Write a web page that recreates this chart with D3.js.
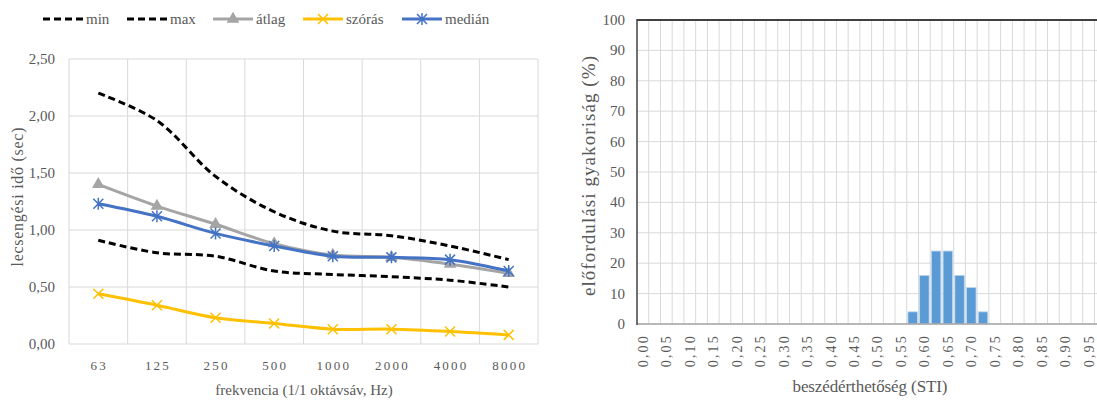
<!DOCTYPE html>
<html>
<head>
<meta charset="utf-8">
<script src="https://cdn.jsdelivr.net/npm/d3@7"></script>
<style>
  body { margin: 0; background: #fff; }
  text { font-family: "Liberation Serif", "DejaVu Serif", serif; fill: #595959; }
</style>
</head>
<body>
<script>
// left chart: reverberation time per octave band
const freqs = ["63", "125", "250", "500", "1000", "2000", "4000", "8000"];
const minVals    = [0.91, 0.80, 0.77, 0.64, 0.61, 0.59, 0.56, 0.50];
const maxVals    = [2.20, 1.96, 1.47, 1.16, 0.99, 0.95, 0.86, 0.74];
const meanVals   = [1.40, 1.21, 1.05, 0.88, 0.78, 0.76, 0.70, 0.62];
const stdVals    = [0.44, 0.34, 0.23, 0.18, 0.13, 0.13, 0.11, 0.08];
const medianVals = [1.23, 1.12, 0.97, 0.86, 0.77, 0.76, 0.74, 0.64];
const leftTicks = [0, 0.5, 1, 1.5, 2, 2.5];

// right chart: STI histogram
const stiBins = ["0,000","0,025","0,050","0,075","0,100","0,125","0,150","0,175","0,200","0,225",
                 "0,250","0,275","0,300","0,325","0,350","0,375","0,400","0,425","0,450","0,475",
                 "0,500","0,525","0,550","0,575","0,600","0,625","0,650","0,675","0,700","0,725",
                 "0,750","0,775","0,800","0,825","0,850","0,875","0,900","0,925","0,950","0,975"];
const stiFreq = [0,0,0,0,0,0,0,0,0,0,
                 0,0,0,0,0,0,0,0,0,0,
                 0,0,0,4,16,24,24,16,12,4,
                 0,0,0,0,0,0,0,0,0,0];
const stiLabels = ["0,00","0,05","0,10","0,15","0,20","0,25","0,30","0,35","0,40","0,45",
                   "0,50","0,55","0,60","0,65","0,70","0,75","0,80","0,85","0,90","0,95"];
const rightTicks = [0,10,20,30,40,50,60,70,80,90,100];

const W = 1097, H = 400;
const svg = d3.select("body").append("svg").attr("width", W).attr("height", H);

// ---------- left chart ----------
const x = d3.scaleBand().domain(freqs).range([69, 538]);
const y = d3.scaleLinear().domain([0, 2.5]).range([344, 59]);
const fmt = d => d3.format(".2f")(d).replace(".", ",");

const gL = svg.append("g");
gL.selectAll("line.h").data(leftTicks).enter().append("line")
  .attr("x1", 69).attr("x2", 538)
  .attr("y1", d => y(d)).attr("y2", d => y(d))
  .attr("stroke", "#d9d9d9").attr("stroke-width", 1);
gL.selectAll("line.v").data(freqs.concat(["end"])).enter().append("line")
  .attr("x1", (d, i) => 69 + i * x.step()).attr("x2", (d, i) => 69 + i * x.step())
  .attr("y1", 59).attr("y2", 344)
  .attr("stroke", "#d9d9d9").attr("stroke-width", 1);

gL.selectAll("text.yt").data(leftTicks).enter().append("text")
  .attr("x", 55).attr("y", d => y(d) + 5)
  .attr("text-anchor", "end").attr("font-size", 15)
  .text(fmt);
gL.selectAll("text.xt").data(freqs).enter().append("text")
  .attr("x", d => x(d) + x.bandwidth() / 2 + 1).attr("y", 370)
  .attr("text-anchor", "middle").attr("font-size", 13).attr("letter-spacing", "2.2px")
  .text(d => d);
gL.append("text").attr("x", 304).attr("y", 395).attr("text-anchor", "middle")
  .attr("font-size", 15).text("frekvencia (1/1 oktávsáv, Hz)");
gL.append("text").attr("transform", "translate(23,197) rotate(-90)")
  .attr("text-anchor", "middle").attr("font-size", 16)
  .attr("textLength", 139).attr("lengthAdjust", "spacing")
  .text("lecsengési idő (sec)");

const series = [
  { name: "min",    vals: minVals,    color: "#000000", dash: "7,4", marker: null },
  { name: "max",    vals: maxVals,    color: "#000000", dash: "7,4", marker: null },
  { name: "átlag",  vals: meanVals,   color: "#a5a5a5", dash: null,  marker: "tri" },
  { name: "szórás", vals: stdVals,    color: "#ffc000", dash: null,  marker: "x" },
  { name: "medián", vals: medianVals, color: "#4472c4", dash: null,  marker: "star" }
];

const line = d3.line()
  .x((d, i) => x(freqs[i]) + x.bandwidth() / 2)
  .y(d => y(d))
  .curve(d3.curveCatmullRom.alpha(0.5));

function drawMarker(g, type, cx, cy, color) {
  if (type === "tri") {
    g.append("path").attr("d", d3.symbol(d3.symbolTriangle, 70)())
      .attr("transform", `translate(${cx},${cy})`).attr("fill", color);
  } else if (type === "x") {
    g.append("path").attr("d", `M${cx-5},${cy-5}L${cx+5},${cy+5}M${cx-5},${cy+5}L${cx+5},${cy-5}`)
      .attr("stroke", color).attr("stroke-width", 1.5);
  } else if (type === "star") {
    g.append("path").attr("d", `M${cx-5},${cy-5}L${cx+5},${cy+5}M${cx-5},${cy+5}L${cx+5},${cy-5}M${cx},${cy-6}L${cx},${cy+6}`)
      .attr("stroke", color).attr("stroke-width", 1.5);
  }
}

series.forEach(s => {
  gL.append("path").datum(s.vals).attr("d", line)
    .attr("fill", "none").attr("stroke", s.color).attr("stroke-width", 3)
    .attr("stroke-dasharray", s.dash);
  if (s.marker) {
    s.vals.forEach((v, i) => drawMarker(gL, s.marker, x(freqs[i]) + x.bandwidth() / 2, y(v), s.color));
  }
});

// legend
const legX = [43, 127, 213, 303, 402];
series.forEach((s, i) => {
  const lg = svg.append("g");
  lg.append("line").attr("x1", legX[i]).attr("x2", legX[i] + 40).attr("y1", 19).attr("y2", 19)
    .attr("stroke", s.color).attr("stroke-width", 3).attr("stroke-dasharray", s.dash);
  if (s.marker) drawMarker(lg, s.marker, legX[i] + 20, 19, s.color);
  lg.append("text").attr("x", legX[i] + 43).attr("y", 24).attr("font-size", 15).text(s.name);
});

// ---------- right chart ----------
const bx = d3.scaleBand().domain(stiBins).range([637, 637 + 40 * 11.73]).paddingInner(0.19).paddingOuter(0.095);
const by = d3.scaleLinear().domain([0, 100]).range([324, 20]);
const gR = svg.append("g");

gR.selectAll("line.h").data(rightTicks).enter().append("line")
  .attr("x1", 637).attr("x2", 1110)
  .attr("y1", d => by(d)).attr("y2", d => by(d))
  .attr("stroke", "#d9d9d9");
gR.selectAll("line.v").data(stiBins).enter().append("line")
  .attr("x1", (d, i) => 637 + (i + 1) * bx.step()).attr("x2", (d, i) => 637 + (i + 1) * bx.step())
  .attr("y1", 20).attr("y2", 324)
  .attr("stroke", "#d9d9d9");

gR.selectAll("rect").data(stiFreq).enter().append("rect")
  .attr("x", (d, i) => bx(stiBins[i]))
  .attr("width", bx.bandwidth())
  .attr("y", d => by(d))
  .attr("height", d => by(0) - by(d))
  .attr("fill", "#5b9bd5")
  .attr("stroke", "#bdd7ee").attr("stroke-width", d => d > 0 ? 0.8 : 0);

gR.append("line").attr("x1", 637).attr("x2", 1110).attr("y1", 324).attr("y2", 324)
  .attr("stroke", "#a6a6a6").attr("stroke-width", 1.5);
gR.append("line").attr("x1", 637).attr("x2", 1110).attr("y1", 20).attr("y2", 20)
  .attr("stroke", "#404040").attr("stroke-width", 2);
gR.append("line").attr("x1", 637).attr("x2", 637).attr("y1", 19).attr("y2", 325)
  .attr("stroke", "#404040").attr("stroke-width", 1.5);

gR.selectAll("text.yt").data(rightTicks).enter().append("text")
  .attr("x", 625).attr("y", d => by(d) + 5)
  .attr("text-anchor", "end").attr("font-size", 15).text(d => d);
gR.selectAll("text.xt").data(stiLabels).enter().append("text")
  .attr("transform", (d, i) => {
    const cx = bx(stiBins[i * 2]) + bx.bandwidth() / 2 + 5;
    return `translate(${cx},334) rotate(-90)`;
  })
  .attr("text-anchor", "end").attr("font-size", 14).attr("letter-spacing", "2.2px").text(d => d);
gR.append("text").attr("x", 870).attr("y", 392).attr("text-anchor", "middle")
  .attr("font-size", 17).attr("textLength", 155).attr("lengthAdjust", "spacing")
  .text("beszédérthetőség (STI)");
gR.append("text").attr("transform", "translate(595,176) rotate(-90)")
  .attr("text-anchor", "middle").attr("font-size", 19)
  .attr("textLength", 240).attr("lengthAdjust", "spacing")
  .text("előfordulási gyakoriság (%)");
</script>
</body>
</html>
